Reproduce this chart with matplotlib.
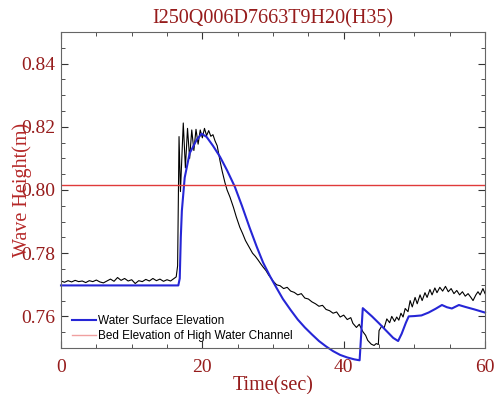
import matplotlib
matplotlib.use("Agg")
import matplotlib.pyplot as plt
from matplotlib.ticker import MultipleLocator

title = "I250Q006D7663T9H20(H35)"
bed_level = 0.8015

# simulated water surface elevation (blue)
sim_t = [0, 16.6, 16.8, 16.95, 17.1, 17.5, 18.2, 19.2, 19.9, 20.6, 21.5, 22.5,
         23.5, 24.6, 25.6, 26.7, 27.7, 28.6, 29.6, 30.5, 31.4, 32.5, 33.5, 34.5,
         35.5, 36.5, 37.5, 38.5, 39.5, 40.5, 41.5, 42.25, 42.7, 44.0, 45.0, 46.0,
         47.0, 47.7, 48.2, 48.8, 49.2, 50.0, 51.0, 52.0, 53.0, 53.9, 54.6, 55.3,
         56.3, 57.2, 58.5, 60.0]
sim_h = [0.7698, 0.7698, 0.7720, 0.7850, 0.7934, 0.8039, 0.8116, 0.8159, 0.8178,
         0.8168, 0.8140, 0.8105, 0.8062, 0.8010, 0.7950, 0.7880, 0.7820, 0.7770,
         0.7726, 0.7690, 0.7655, 0.7620, 0.7590, 0.7565, 0.7543, 0.7522, 0.7505,
         0.7490, 0.7478, 0.7470, 0.7464, 0.7461, 0.7626, 0.7600, 0.7578, 0.7555,
         0.7532, 0.7522, 0.7545, 0.7580, 0.7600, 0.7601, 0.7603, 0.7612, 0.7624,
         0.7636, 0.7629, 0.7625, 0.7636, 0.7630, 0.7622, 0.7612]

# measured wave height (black)
obs_t = [0, 0.5, 1, 1.5, 2, 2.5, 3, 3.5, 4, 4.5, 5, 5.5, 6, 6.5, 7, 7.5, 8, 8.5,
         9, 9.5, 10, 10.5, 11, 11.5, 12, 12.5, 13, 13.5, 14, 14.5, 15, 15.5, 16,
         16.3, 16.5, 16.7, 16.9, 17.3, 17.6, 17.9, 18.2, 18.5, 18.8, 19.1, 19.4,
         19.7, 20.0, 20.3, 20.6, 20.9, 21.2, 21.5, 21.8, 22.1, 22.5, 22.8, 23.2,
         23.5, 23.9, 24.4, 24.8, 25.3, 25.7, 26.1, 26.4, 26.7, 27.1, 27.5, 27.9,
         28.3, 28.6, 29.0, 29.4, 29.7, 30.0, 30.5, 31.0, 31.5, 32.0, 32.5, 33.0,
         33.5, 34.0, 34.5, 35.0, 35.5, 36.0, 36.5, 37.0, 37.5, 38.0, 38.5, 39.0,
         39.5, 40.0, 40.5, 41.0, 41.3, 41.8, 42.2, 42.7, 43.1, 43.4, 43.9, 44.3,
         44.6, 44.9, 45.0, 45.4, 45.7, 46.1, 46.5, 46.8, 47.2, 47.5, 47.8, 48.1,
         48.4, 48.7, 49.1, 49.4, 49.7, 50.1, 50.4, 50.8, 51.1, 51.5, 51.8, 52.2,
         52.5, 52.9, 53.2, 53.6, 54.0, 54.4, 54.8, 55.2, 55.6, 56.0, 56.4, 56.8,
         57.2, 57.6, 58.0, 58.3, 58.7, 59.0, 59.3, 59.7, 60.0]
obs_h = [0.7712, 0.7708, 0.7713, 0.7709, 0.7714, 0.7710, 0.7712, 0.7707, 0.7713,
         0.7710, 0.7715, 0.7709, 0.7706, 0.7712, 0.7718, 0.7711, 0.7723, 0.7714,
         0.7720, 0.7712, 0.7716, 0.7704, 0.7713, 0.7710, 0.7717, 0.7712, 0.7720,
         0.7713, 0.7718, 0.7711, 0.7716, 0.7712, 0.7720, 0.7725, 0.7760, 0.8169,
         0.7995, 0.8212, 0.8070, 0.8195, 0.8100, 0.8190, 0.8125, 0.8192, 0.8145,
         0.8190, 0.8165, 0.8195, 0.8172, 0.8188, 0.8170, 0.8175, 0.8155, 0.8140,
         0.8092, 0.8060, 0.8023, 0.8000, 0.7978, 0.7945, 0.7915, 0.7882, 0.7862,
         0.7840, 0.7828, 0.7816, 0.7800, 0.7790, 0.7778, 0.7765, 0.7756, 0.7745,
         0.7730, 0.7722, 0.7712, 0.7700, 0.7697, 0.7688, 0.7692, 0.7680, 0.7676,
         0.7668, 0.7672, 0.7658, 0.7655, 0.7646, 0.7640, 0.7632, 0.7635, 0.7622,
         0.7618, 0.7610, 0.7614, 0.7598, 0.7604, 0.7590, 0.7596, 0.7578, 0.7565,
         0.7575, 0.7552, 0.7540, 0.7524, 0.7512, 0.7508, 0.7514, 0.7511, 0.7555,
         0.7570, 0.7562, 0.7592, 0.7580, 0.7600, 0.7584, 0.7598, 0.7588, 0.7610,
         0.7598, 0.7625, 0.7615, 0.7650, 0.7630, 0.7660, 0.7640, 0.7668, 0.7650,
         0.7675, 0.7660, 0.7685, 0.7668, 0.7690, 0.7675, 0.7692, 0.7680, 0.7695,
         0.7678, 0.7688, 0.7672, 0.7682, 0.7668, 0.7678, 0.7664, 0.7672, 0.7660,
         0.7650, 0.7668, 0.7678, 0.7668, 0.7688, 0.7672]

red_dark = "#961c1c"
serif = ["Liberation Serif", "DejaVu Serif"]

fig = plt.figure(figsize=(4.98, 3.94), dpi=100)
ax = fig.add_axes([0.1225, 0.1168, 0.8515, 0.802])

ax.plot(obs_t, obs_h, color="black", lw=0.8)
ax.plot(sim_t, sim_h, color="#2626d6", lw=1.5, clip_on=False,
        label="Water Surface Elevation")
ax.axhline(bed_level, color="#e03a3a", lw=1.0,
           label="Bed Elevation of High Water Channel")

ax.set_xlim(0, 60)
ax.set_ylim(0.75, 0.85)
ax.xaxis.set_major_locator(MultipleLocator(20))
ax.xaxis.set_minor_locator(MultipleLocator(5))
ax.yaxis.set_major_locator(MultipleLocator(0.02))
ax.yaxis.set_minor_locator(MultipleLocator(0.005))
ax.tick_params(which="both", direction="in", top=True, right=True, color="#333333")
ax.tick_params(which="major", length=5, width=0.8)
ax.tick_params(which="minor", length=3, width=0.6)
ax.tick_params(axis="x", pad=8)
ax.tick_params(axis="y", pad=4)
for lab in ax.get_xticklabels() + ax.get_yticklabels():
    lab.set_family(serif)
    lab.set_fontsize(14)
    lab.set_color(red_dark)
for s in ax.spines.values():
    s.set_color("#666666")
    s.set_linewidth(0.8)

ax.set_title(title, family=serif, fontsize=14.5, color=red_dark, pad=6)
ax.set_xlabel("Time(sec)", family=serif, fontsize=14.5, color=red_dark, labelpad=0)
ax.set_ylabel("Wave Height(m)", family=serif, fontsize=14.5, color="#b52828")
ax.yaxis.set_label_coords(-0.069, 0.5)

leg = ax.legend(loc="lower left", bbox_to_anchor=(0.026, 0.02), frameon=False,
                borderpad=0, borderaxespad=0, handlelength=2.0, handletextpad=0.2,
                labelspacing=0.25, prop={"family": "Liberation Sans", "size": 8.5})
leg.get_lines()[1].set_color("#f0a0a0")

fig.savefig("out.png", dpi=100)
